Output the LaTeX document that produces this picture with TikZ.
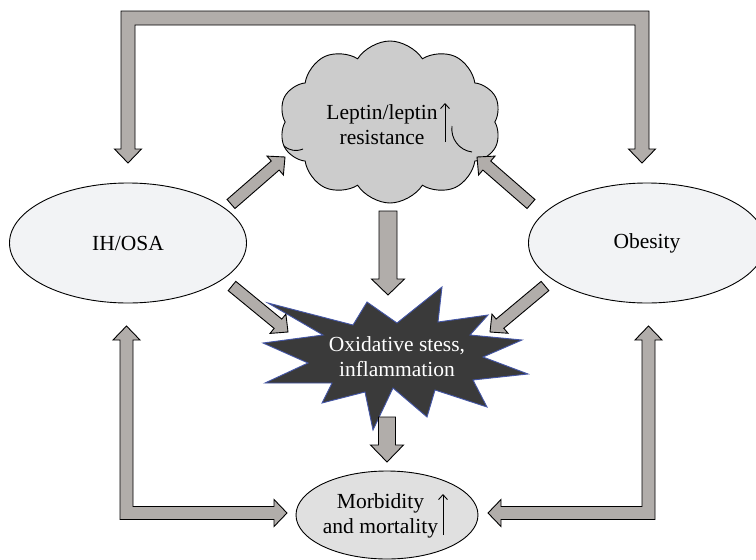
\documentclass[tikz,border=0pt]{standalone}
\usepackage{fontspec}
\setmainfont{Liberation Serif}
\usetikzlibrary{shapes.geometric,shapes.symbols,calc,arrows.meta}
\definecolor{arrgray}{HTML}{B1ADAA}
\definecolor{cloudgray}{HTML}{CCCCCC}
\definecolor{ellfill}{HTML}{F2F3F5}
\definecolor{morbfill}{HTML}{E0E0E0}
\definecolor{stardark}{HTML}{3A3A3A}
\definecolor{starblue}{HTML}{4456A6}
\tikzset{
  blockarr/.style={draw=black, fill=arrgray, line width=0.9pt, line join=miter},
  sideell/.style={ellipse, draw=black, fill=ellfill, line width=0.9pt, minimum width=237pt, minimum height=120pt, inner sep=0pt},
  lbl/.style={font=\fontsize{21.5}{25}\selectfont, align=center, inner sep=0pt},
  thinup/.style={line width=0.9pt, -{Straight Barb[length=5pt,width=9pt]}}
}
\newcommand\blockarrow[5]{%
  \path ($(#2)!#5!(#1)$) coordinate (bahead);
  \draw[blockarr] ($(#1)!#3!90:(#2)$) -- ($(bahead)!#3!90:(#2)$) -- ($(bahead)!#4!90:(#2)$) -- (#2)
    -- ($(bahead)!#4!-90:(#2)$) -- ($(bahead)!#3!-90:(#2)$) -- ($(#1)!#3!-90:(#2)$) -- cycle;
}
\begin{document}
\begin{tikzpicture}[x=1pt,y=-1pt]
\useasboundingbox (0,0) rectangle (756,560);
\fill[white] (0,0) rectangle (756,560);

% nodes
\node[sideell] (ihosa) at (128,243) {};
\node[lbl] (ihosatxt) at (128,243) {IH/OSA};
\node[sideell] (obesity) at (647,243) {};
\node[lbl] (obesitytxt) at (647,243) {Obesity};

\node[cloud, cloud puffs=10, cloud puff arc=115, cloud ignores aspect, draw=black, fill=cloudgray, line width=0.9pt, minimum width=222pt, minimum height=162pt, inner sep=0pt] (leptin) at (390,122) {};
\draw[line width=0.9pt] (284,146) to[bend right=30] (303,149);
\draw[line width=0.9pt] (452,126) to[bend right=45] (472,152);
\node[lbl] (leptxt) at (382,125) {Leptin/leptin\\resistance};
\coordinate (lepa) at (445,142);
\coordinate (lepb) at (445,103);
\draw[thinup] (lepa) -- (lepb);

% star
\draw[fill=stardark, draw=starblue, line width=0.9pt, line join=miter]
  (268,303) -- (353,325) -- (367,302) -- (397,323) -- (442,287) -- (438,322)
  -- (488,315) -- (470,335) -- (522,340) -- (483,357) -- (528,374) -- (473,380)
  -- (487,407) -- (435,390) -- (427,417) -- (393,388) -- (373,430) -- (365,392)
  -- (322,403) -- (332,383) -- (265,383) -- (308,363) -- (263,343) -- (323,335) -- cycle;
\node[lbl, text=white] (oxi) at (397,357) {Oxidative stess,\\inflammation};

% bottom ellipse
\node[ellipse, draw=black, fill=morbfill, line width=0.9pt, minimum width=182pt, minimum height=88pt, inner sep=0pt] (morb) at (387,515) {};
\node[lbl] (morbtxt) at (380.5,516) {Morbidity\\and mortality};
\coordinate (morba) at (443,535);
\coordinate (morbb) at (443,494);
\draw[thinup] (morba) -- (morbb);

% diagonal and vertical block arrows
\coordinate (d1a) at (231,204); \coordinate (d1b) at (285,157);
\coordinate (d2a) at (232,286); \coordinate (d2b) at (288,332);
\coordinate (d3a) at (531,204); \coordinate (d3b) at (477,157);
\coordinate (d4a) at (545,286); \coordinate (d4b) at (490,332);
\blockarrow{d1a}{d1b}{6pt}{12.5pt}{13pt}
\blockarrow{d2a}{d2b}{6pt}{12.5pt}{13pt}
\blockarrow{d3a}{d3b}{6pt}{12.5pt}{13pt}
\blockarrow{d4a}{d4b}{6pt}{12.5pt}{13pt}
\coordinate (v1a) at (388,211); \coordinate (v1b) at (388,295);
\coordinate (v2a) at (387,417); \coordinate (v2b) at (387,462);
\blockarrow{v1a}{v1b}{9pt}{16.5pt}{16pt}
\blockarrow{v2a}{v2b}{8.5pt}{16.5pt}{17pt}

% top bracket
\coordinate (tl) at (128,163); \coordinate (tr) at (642,163);
\draw[blockarr] (tl) -- ++(-13.5,-14) -- ++(6.5,0) -- (121,11) -- (649,11) -- (649,149)
  -- ++(6.5,0) -- (tr) -- ++(-13.5,-14) -- ++(6.5,0) -- (635,25) -- (135,25) -- (135,149)
  -- ++(6.5,0) -- cycle;

% bottom left bracket
\coordinate (blu) at (126.5,326); \coordinate (blr) at (287,513);
\draw[blockarr] (blu) -- ++(13.5,14) -- ++(-7,0) -- (133,506.5) -- (274,506.5) -- (274,499.5)
  -- (blr) -- (274,526.5) -- (274,519.5) -- (120,519.5) -- (120,340) -- (113,340) -- cycle;

% bottom right bracket
\coordinate (bru) at (648.5,326); \coordinate (brl) at (488,513);
\draw[blockarr] (bru) -- ++(13.5,14) -- ++(-7,0) -- (655,519.5) -- (501,519.5) -- (501,526.5)
  -- (brl) -- (501,499.5) -- (501,506.5) -- (642,506.5) -- (642,340) -- (635,340) -- cycle;
\end{tikzpicture}
\end{document}
